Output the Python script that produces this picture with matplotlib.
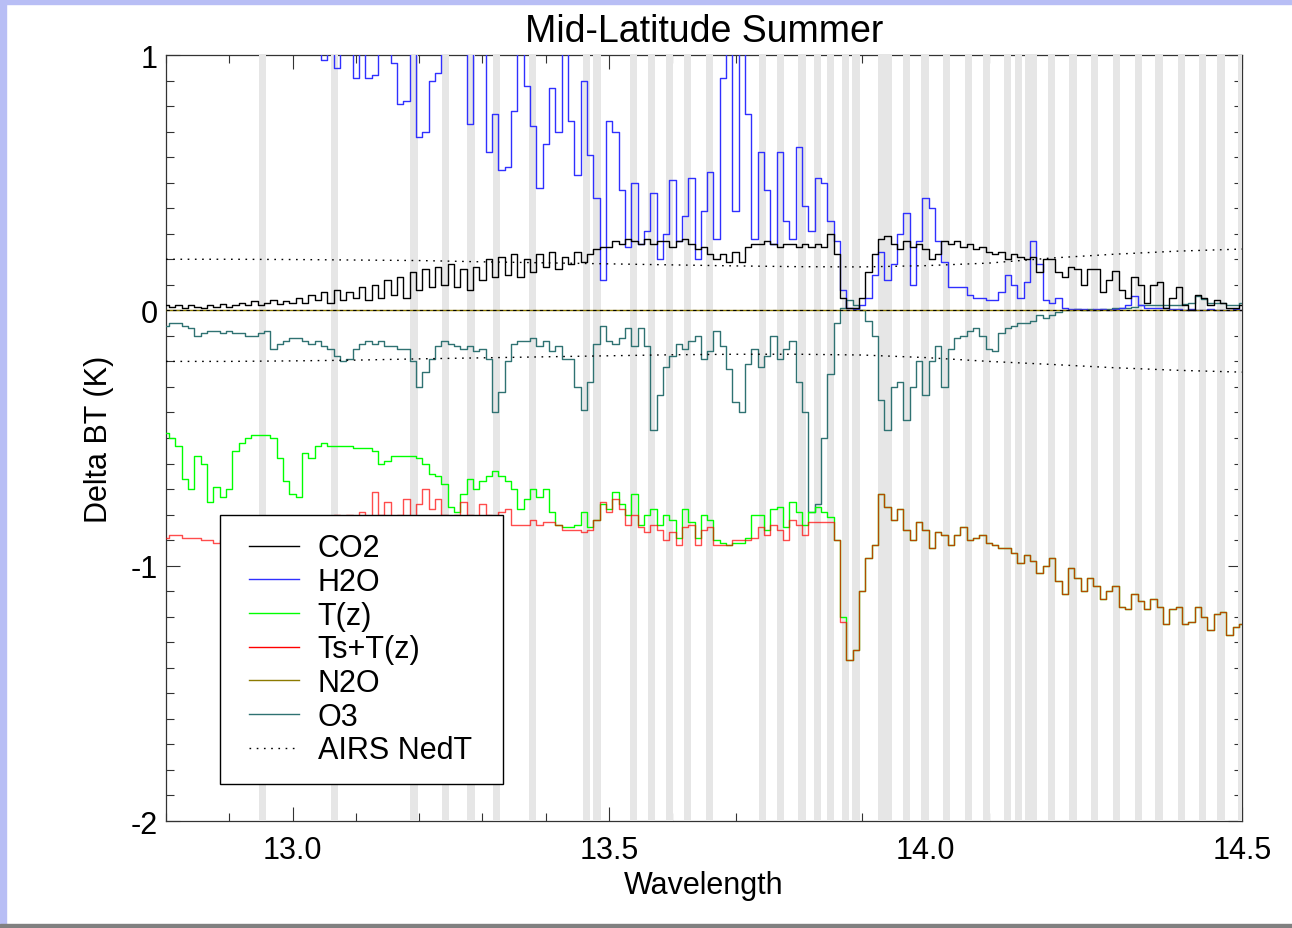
import numpy as np
import matplotlib
matplotlib.use("Agg")
import matplotlib.pyplot as plt
from matplotlib.lines import Line2D
from matplotlib.legend_handler import HandlerLine2D
from matplotlib.patches import Rectangle
from matplotlib.ticker import MultipleLocator

plt.rcParams['font.family'] = ['Liberation Sans', 'DejaVu Sans']

# channel centres (um), 0.01 apart from 12.80 to 14.50
wavelength = np.round(np.arange(12.80, 14.5001, 0.01), 2)

co2 = [0.02, 0.015, 0.02, 0.01, 0.02, 0.015, 0.01, 0.02, 0.015, 0.025,
       0.015, 0.02, 0.03, 0.02, 0.035, 0.02, 0.03, 0.04, 0.025, 0.035,
       0.03, 0.05, 0.03, 0.06, 0.04, 0.07, 0.03, 0.08, 0.04, 0.07,
       0.05, 0.09, 0.04, 0.1, 0.05, 0.12, 0.06, 0.13, 0.05, 0.15,
       0.08, 0.16, 0.09, 0.17, 0.1, 0.18, 0.09, 0.16, 0.08, 0.17,
       0.12, 0.2, 0.13, 0.21, 0.14, 0.22, 0.13, 0.2, 0.15, 0.22,
       0.17, 0.23, 0.16, 0.21, 0.18, 0.23, 0.19, 0.22, 0.24, 0.25,
       0.25, 0.27, 0.26, 0.28, 0.27, 0.26, 0.28, 0.26, 0.27, 0.27,
       0.25, 0.27, 0.28, 0.26, 0.24, 0.25, 0.22, 0.2, 0.22, 0.19,
       0.23, 0.19, 0.25, 0.26, 0.26, 0.27, 0.26, 0.25, 0.26, 0.26,
       0.25, 0.26, 0.25, 0.26, 0.25, 0.3, 0.22, 0.05, 0.01, 0.01,
       0.05, 0.15, 0.22, 0.28, 0.29, 0.26, 0.24, 0.27, 0.25, 0.26,
       0.24, 0.2, 0.22, 0.27, 0.26, 0.27, 0.25, 0.26, 0.24, 0.25,
       0.23, 0.22, 0.23, 0.2, 0.22, 0.21, 0.2, 0.21, 0.15, 0.2,
       0.2, 0.15, 0.13, 0.17, 0.16, 0.1, 0.16, 0.16, 0.07, 0.12,
       0.155, 0.08, 0.05, 0.13, 0.1, 0.03, 0.1, 0.11, 0.01, 0.05,
       0.09, 0.02, 0.0, 0.06, 0.05, 0.02, 0.04, 0.03, 0.01, 0.01, 0.02]

h2o = [1.8, 1.9, 1.7, 1.8, 1.6, 1.7, 1.9, 1.6, 1.5, 1.7,
       1.6, 1.4, 1.5, 1.6, 1.3, 1.4, 1.5, 1.3, 1.4, 1.3,
       1.2, 1.3, 1.2, 1.15, 1.1, 0.98, 1.1, 0.95, 1.1, 1.05,
       0.91, 1.05, 0.91, 0.92, 1.1, 1.05, 0.97, 0.81, 0.82, 1.05,
       0.68, 0.7, 0.9, 0.93, 1.1, 1.2, 1.1, 1.05, 0.73, 1.05,
       1.1, 0.62, 0.77, 0.55, 0.56, 0.78, 1.1, 0.88, 0.72, 0.48,
       0.65, 0.87, 0.7, 1.1, 0.74, 0.53, 0.9, 0.61, 0.44, 0.12,
       0.74, 0.7, 0.47, 0.25, 0.5, 0.26, 0.31, 0.46, 0.2, 0.3,
       0.51, 0.27, 0.37, 0.52, 0.2, 0.39, 0.54, 0.28, 0.91, 1.2,
       0.39, 1.2, 0.77, 0.28, 0.62, 0.47, 0.26, 0.62, 0.35, 0.28,
       0.64, 0.41, 0.31, 0.52, 0.5, 0.35, 0.27, 0.08, 0.01, 0.005,
       0.02, 0.05, 0.14, 0.23, 0.12, 0.18, 0.3, 0.38, 0.1, 0.27,
       0.44, 0.4, 0.27, 0.19, 0.09, 0.09, 0.09, 0.06, 0.05, 0.05,
       0.04, 0.04, 0.07, 0.14, 0.1, 0.05, 0.11, 0.27, 0.18, 0.04,
       0.03, 0.05, 0.01, 0.005, 0.005, 0.005, 0.0, 0.005, 0.005, 0.0,
       0.005, 0.01, 0.02, 0.055, 0.02, 0.01, 0.01, 0.01, 0.01, 0.005,
       0.005, 0.0, 0.005, 0.0, 0.0, 0.005, 0.0, 0.0, 0.0, 0.005, 0.0]

tz = [-0.48, -0.5, -0.53, -0.66, -0.7, -0.57, -0.6, -0.75, -0.69, -0.73,
      -0.7, -0.55, -0.52, -0.5, -0.49, -0.49, -0.49, -0.5, -0.58, -0.67,
      -0.72, -0.73, -0.56, -0.58, -0.53, -0.52, -0.53, -0.53, -0.53, -0.53,
      -0.54, -0.54, -0.54, -0.55, -0.6, -0.59, -0.57, -0.57, -0.57, -0.57,
      -0.58, -0.6, -0.64, -0.65, -0.68, -0.77, -0.79, -0.72, -0.66, -0.7,
      -0.67, -0.65, -0.63, -0.65, -0.67, -0.7, -0.78, -0.74, -0.7, -0.73,
      -0.7, -0.79, -0.84, -0.85, -0.85, -0.84, -0.79, -0.85, -0.82, -0.76,
      -0.78, -0.71, -0.76, -0.8, -0.72, -0.84, -0.8, -0.78, -0.84, -0.8,
      -0.82, -0.89, -0.78, -0.83, -0.89, -0.8, -0.82, -0.9, -0.91, -0.92,
      -0.91, -0.91, -0.89, -0.8, -0.8, -0.86, -0.78, -0.77, -0.85, -0.75,
      -0.79, -0.84, -0.79, -0.77, -0.79, -0.81, -0.9, -1.2, -1.37, -1.33,
      -1.1, -0.97, -0.92, -0.72, -0.77, -0.82, -0.78, -0.86, -0.9, -0.83,
      -0.86, -0.93, -0.87, -0.88, -0.92, -0.88, -0.85, -0.9, -0.89, -0.88,
      -0.91, -0.92, -0.93, -0.93, -0.95, -0.99, -0.96, -0.98, -1.03, -1.0,
      -0.97, -1.06, -1.11, -1.01, -1.05, -1.1, -1.05, -1.08, -1.13, -1.1,
      -1.08, -1.16, -1.17, -1.11, -1.14, -1.17, -1.13, -1.16, -1.23, -1.17,
      -1.16, -1.23, -1.22, -1.16, -1.2, -1.25, -1.19, -1.18, -1.27, -1.24, -1.23]

ts_tz = [-0.89, -0.88, -0.88, -0.89, -0.89, -0.89, -0.9, -0.9, -0.91, -0.9,
         -0.9, -0.89, -0.9, -0.88, -0.89, -0.88, -0.89, -0.87, -0.88, -0.86,
         -0.87, -0.85, -0.86, -0.84, -0.85, -0.83, -0.84, -0.8, -0.84, -0.8,
         -0.83, -0.79, -0.82, -0.71, -0.8, -0.75, -0.82, -0.8, -0.74, -0.82,
         -0.76, -0.7, -0.78, -0.74, -0.8, -0.82, -0.8, -0.75, -0.8, -0.82,
         -0.76, -0.8, -0.82, -0.79, -0.78, -0.84, -0.84, -0.84, -0.82, -0.84,
         -0.83, -0.83, -0.84, -0.86, -0.86, -0.86, -0.87, -0.86, -0.82, -0.75,
         -0.79, -0.74, -0.78, -0.84, -0.8, -0.85, -0.87, -0.84, -0.86, -0.9,
         -0.87, -0.92, -0.85, -0.84, -0.92, -0.86, -0.85, -0.92, -0.92, -0.92,
         -0.9, -0.9, -0.9, -0.89, -0.85, -0.88, -0.84, -0.86, -0.9, -0.82,
         -0.84, -0.88, -0.83, -0.83, -0.83, -0.83, -0.9, -1.22, -1.37, -1.33,
         -1.1, -0.97, -0.92, -0.72, -0.77, -0.82, -0.78, -0.86, -0.9, -0.83,
         -0.86, -0.93, -0.87, -0.88, -0.92, -0.88, -0.85, -0.9, -0.89, -0.88,
         -0.91, -0.92, -0.93, -0.93, -0.95, -0.99, -0.96, -0.98, -1.03, -1.0,
         -0.97, -1.06, -1.11, -1.01, -1.05, -1.1, -1.05, -1.08, -1.13, -1.1,
         -1.08, -1.16, -1.17, -1.11, -1.14, -1.17, -1.13, -1.16, -1.23, -1.17,
         -1.16, -1.23, -1.22, -1.16, -1.2, -1.25, -1.19, -1.18, -1.27, -1.24, -1.23]

n2o = [0.0, 0.0, 0.0, 0.0, 0.0, 0.0, 0.0, 0.0, 0.0, 0.0,
       0.0, 0.0, 0.0, 0.0, 0.0, 0.0, 0.0, 0.0, 0.0, 0.0,
       0.0, 0.0, 0.0, 0.0, 0.0, 0.0, 0.0, 0.0, 0.0, 0.0,
       0.0, 0.0, 0.0, 0.0, 0.0, 0.0, 0.0, 0.0, 0.0, 0.0,
       0.0, 0.0, 0.0, 0.0, 0.0, 0.0, 0.0, 0.0, 0.0, 0.0,
       0.0, 0.0, 0.0, 0.0, 0.0, 0.0, 0.0, 0.0, 0.0, 0.0,
       0.0, 0.0, 0.0, 0.0, 0.0, 0.0, 0.0, 0.0, 0.0, 0.0,
       0.0, 0.0, 0.0, 0.0, 0.0, 0.0, 0.0, 0.0, 0.0, 0.0,
       0.0, 0.0, 0.0, 0.0, 0.0, 0.0, 0.0, 0.0, 0.0, 0.0,
       0.0, 0.0, 0.0, 0.0, 0.0, 0.0, 0.0, 0.0, 0.0, 0.0,
       0.0, 0.0, 0.0, 0.0, 0.0, 0.0, 0.0, 0.0, 0.0, 0.0,
       0.0, 0.0, 0.0, 0.0, 0.0, 0.0, 0.0, 0.0, 0.0, 0.0,
       0.0, 0.0, 0.0, 0.0, 0.0, 0.0, 0.0, 0.0, 0.0, 0.0,
       0.0, 0.0, 0.0, 0.0, 0.0, 0.0, 0.0, 0.0, 0.0, 0.0,
       0.0, 0.0, 0.0, 0.0, 0.0, 0.0, 0.0, 0.0, 0.0, 0.0,
       0.0, 0.0, 0.0, 0.0, 0.0, 0.0, 0.0, 0.0, 0.0, 0.0,
       0.0, 0.0, 0.0, 0.0, 0.0, 0.0, 0.0, 0.0, 0.0, 0.0, 0.0]

o3 = [-0.06, -0.05, -0.05, -0.06, -0.07, -0.1, -0.09, -0.08, -0.08, -0.09,
      -0.08, -0.09, -0.09, -0.1, -0.1, -0.09, -0.08, -0.15, -0.13, -0.12,
      -0.11, -0.11, -0.12, -0.13, -0.12, -0.14, -0.15, -0.18, -0.2, -0.19,
      -0.15, -0.13, -0.12, -0.13, -0.12, -0.14, -0.14, -0.15, -0.15, -0.2,
      -0.3, -0.24, -0.19, -0.14, -0.12, -0.13, -0.14, -0.15, -0.14, -0.16,
      -0.15, -0.19, -0.4, -0.32, -0.2, -0.13, -0.12, -0.12, -0.11, -0.14,
      -0.12, -0.16, -0.14, -0.19, -0.19, -0.3, -0.39, -0.28, -0.13, -0.06,
      -0.12, -0.13, -0.11, -0.07, -0.14, -0.07, -0.14, -0.47, -0.33, -0.22,
      -0.18, -0.13, -0.15, -0.12, -0.1, -0.19, -0.16, -0.08, -0.14, -0.23,
      -0.36, -0.4, -0.21, -0.15, -0.22, -0.18, -0.1, -0.19, -0.15, -0.12,
      -0.28, -0.4, -0.79, -0.76, -0.5, -0.25, -0.05, 0.01, 0.04, 0.02,
      0.0, -0.04, -0.1, -0.35, -0.47, -0.3, -0.28, -0.43, -0.3, -0.2,
      -0.33, -0.2, -0.14, -0.3, -0.15, -0.11, -0.1, -0.08, -0.07, -0.1,
      -0.15, -0.16, -0.09, -0.07, -0.06, -0.05, -0.05, -0.04, -0.02, -0.03,
      -0.02, -0.005, 0.0, 0.0, 0.005, 0.0, 0.005, 0.0, 0.005, 0.005,
      0.01, 0.01, 0.01, 0.015, 0.02, 0.02, 0.02, 0.02, 0.02, 0.02,
      0.02, 0.025, 0.03, 0.055, 0.045, 0.03, 0.03, 0.03, 0.02, 0.02, 0.03]

# AIRS noise (K), every 0.1 um
nedt_wl = [12.8, 12.9, 13.0, 13.1, 13.2, 13.3, 13.4, 13.5, 13.6,
           13.7, 13.8, 13.9, 14.0, 14.1, 14.2, 14.3, 14.4, 14.5]
nedt_hi = [0.2, 0.2, 0.199, 0.197, 0.195, 0.19, 0.186, 0.182, 0.178,
           0.174, 0.171, 0.17, 0.175, 0.185, 0.205, 0.22, 0.232, 0.24]
nedt_lo = [-0.2, -0.2, -0.198, -0.195, -0.19, -0.186, -0.182, -0.178, -0.174,
           -0.172, -0.172, -0.175, -0.185, -0.2, -0.212, -0.225, -0.235, -0.242]

# channels marked in grey
bad_channels = [12.952, 13.066, 13.192, 13.242, 13.282, 13.322, 13.379, 13.464,
                13.481, 13.539, 13.567, 13.596, 13.624, 13.659, 13.742, 13.771,
                13.805, 13.829, 13.850, 13.874, 13.890, 13.931, 13.942, 13.970,
                13.999, 14.033, 14.068, 14.096, 14.130, 14.147, 14.163, 14.171,
                14.199, 14.233, 14.267, 14.302, 14.336, 14.369, 14.404, 14.438,
                14.467, 14.499]
band_halfwidth = 0.0058

fig = plt.figure(figsize=(12.92, 9.29), dpi=100)
fig.patches.append(Rectangle((0, 0), 6/1292, 1, transform=fig.transFigure,
                             color='#b8bef5', zorder=0))
fig.patches.append(Rectangle((0, 1 - 5/929), 1, 5/929, transform=fig.transFigure,
                             color='#b8bef5', zorder=0))
fig.patches.append(Rectangle((0, 0), 1, 4/929, transform=fig.transFigure,
                             color='#808080', zorder=1))

ax = fig.add_axes([166/1292, 1 - 822/929, (1242 - 166)/1292, (822 - 56)/929])

for c in bad_channels:
    ax.axvspan(c - band_halfwidth, c + band_halfwidth, color='#e6e6e6',
               lw=0, zorder=2.6)

l_o3, = ax.plot(wavelength, o3, drawstyle='steps-mid', color='#2f7272', lw=1, zorder=3)
l_h2o, = ax.plot(wavelength, h2o, drawstyle='steps-mid', color='#3030ff', lw=1, zorder=3.1)
l_n2o, = ax.plot(wavelength, n2o, drawstyle='steps-mid', color='#8c7a00', lw=1, zorder=3.2)
ax.axhline(0, color='k', lw=0.8, ls=(0, (3, 3)), zorder=3.25)
l_co2, = ax.plot(wavelength, co2, drawstyle='steps-mid', color='k', lw=1, zorder=3.3)
l_tz, = ax.plot(wavelength, tz, drawstyle='steps-mid', color='#00ff00', lw=1, zorder=3.4)
l_ts, = ax.plot(wavelength, ts_tz, drawstyle='steps-mid', color='#ff0000', lw=1,
                alpha=0.7, zorder=3.5)
l_ned, = ax.plot(nedt_wl, nedt_hi, color='k', lw=1, ls=(0, (1.2, 4)), zorder=3.6)
ax.plot(nedt_wl, nedt_lo, color='k', lw=1, ls=(0, (1.2, 4)), zorder=3.6)

ax.set_xlim(12.8, 14.5)
ax.set_ylim(-2, 1)
ax.set_xticks([13.0, 13.5, 14.0, 14.5])
ax.set_xticklabels(['13.0', '13.5', '14.0', '14.5'])
ax.set_yticks([-2, -1, 0, 1])
ax.set_yticklabels(['-2', '-1', '0', '1'])
ax.xaxis.set_minor_locator(MultipleLocator(0.1))
ax.yaxis.set_minor_locator(MultipleLocator(0.1))
ax.tick_params(which='both', direction='in', top=True, right=True,
               colors='#333333', labelcolor='black', labelsize=22, width=0.8)
ax.tick_params(which='major', length=10)
ax.tick_params(which='minor', length=5.5)
ax.tick_params(axis='x', which='major', pad=10)
ax.tick_params(axis='y', which='major', pad=6)
for s in ax.spines.values():
    s.set_linewidth(0.9)
    s.set_color('#333333')

ax.set_title('Mid-Latitude Summer', fontsize=27, pad=10)
ax.set_xlabel('Wavelength', fontsize=22, labelpad=4)
ax.set_ylabel('Delta BT (K)', fontsize=22, labelpad=12)

handles = [l_co2, l_h2o, l_tz, l_ts, l_n2o, l_o3, l_ned]
labels = ['CO2', 'H2O', 'T(z)', 'Ts+T(z)', 'N2O', 'O3', 'AIRS NedT']
leg_handles = []
for h in handles:
    leg_handles.append(Line2D([], [], color=h.get_color(), lw=1,
                              ls=h.get_linestyle()))
leg_handles[-1] = Line2D([], [], color='k', lw=1, ls=(0, (1.2, 4)))
x0 = (220 - 166) / 1076
top = (822 - 516) / 766
w = (503 - 220) / 1076
h = (784 - 516) / 766
leg = ax.legend(leg_handles, labels, loc='upper left',
                bbox_to_anchor=(x0, top - h, w, h), mode='expand',
                borderaxespad=0, fontsize=22, frameon=True, fancybox=False,
                framealpha=1, edgecolor='black', borderpad=0.6,
                labelspacing=0.12, handlelength=2.0, handletextpad=0.6,
                handler_map={Line2D: HandlerLine2D(xpad=0.36)})
leg.get_frame().set_linewidth(1.0)
leg.set_zorder(5)

fig.savefig('out.png', dpi=100)
